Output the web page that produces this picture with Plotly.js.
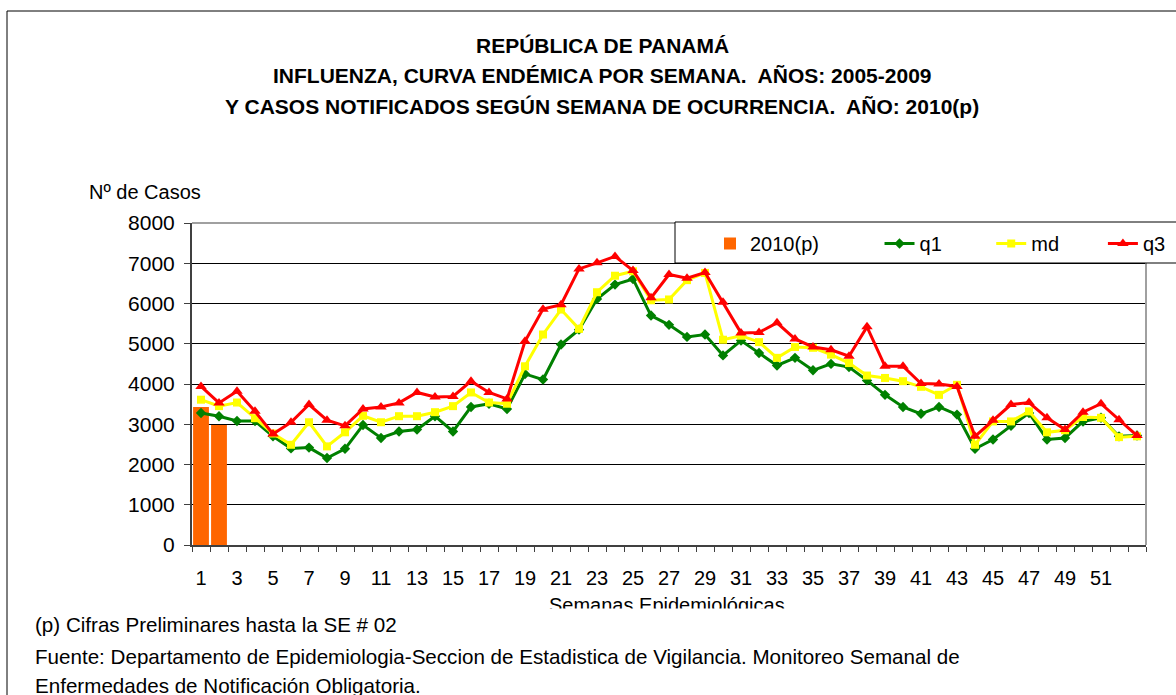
<!DOCTYPE html>
<html>
<head>
<meta charset="utf-8">
<script src="https://cdn.plot.ly/plotly-3.0.1.min.js"></script>
<style>html,body{margin:0;padding:0;background:#fff;}#chart{width:1176px;height:695px;}</style>
</head>
<body>
<div id="chart"></div>
<script>
// ---- data ----
const weeks = [1,2,3,4,5,6,7,8,9,10,11,12,13,14,15,16,17,18,19,20,21,22,23,24,25,26,27,28,29,30,31,32,33,34,35,36,37,38,39,40,41,42,43,44,45,46,47,48,49,50,51,52,53];
const casesWeeks = [1, 2];
const cases2010 = [3430, 2980];
const q1 = [3280,3200,3080,3080,2700,2400,2420,2160,2390,2980,2660,2820,2870,3200,2820,3430,3510,3380,4250,4110,4980,5350,6110,6470,6610,5700,5470,5170,5230,4710,5080,4770,4460,4650,4340,4500,4420,4090,3730,3430,3260,3430,3240,2390,2620,2960,3280,2620,2660,3070,3160,2700,2720];
const md = [3610,3450,3540,3150,2770,2490,3050,2450,2800,3210,3050,3200,3200,3300,3450,3790,3540,3510,4440,5230,5850,5370,6280,6690,6800,6080,6100,6580,6760,5100,5200,5040,4650,4920,4900,4730,4520,4210,4150,4070,3930,3730,3980,2490,3070,3070,3320,2800,2850,3180,3160,2680,2700];
const q3 = [3940,3530,3820,3320,2760,3050,3490,3100,2960,3380,3430,3530,3790,3680,3690,4070,3790,3630,5060,5860,5970,6860,7010,7170,6820,6140,6720,6630,6770,6030,5270,5280,5520,5120,4920,4850,4690,5420,4440,4440,4010,4000,3940,2700,3100,3490,3540,3160,2870,3300,3510,3110,2720];
const tickWeeks = [1,3,5,7,9,11,13,15,17,19,21,23,25,27,29,31,33,35,37,39,41,43,45,47,49,51];
const tickLabels = ["1","3","5","7","9","11","13","15","17","19","21","23","25","27","29","31","33","35","37","39","41","43","45","47","49","51"];
const seriesNames = ["2010(p)", "q1", "md", "q3"];
const titleLines = [
  "REPÚBLICA DE PANAMÁ",
  "INFLUENZA, CURVA ENDÉMICA POR SEMANA.  AÑOS: 2005-2009",
  "Y CASOS NOTIFICADOS SEGÚN SEMANA DE OCURRENCIA.  AÑO: 2010(p)"
];
const yTitle = "Nº de Casos";
const xTitle = "Semanas Epidemiológicas";
const notes = [
  "(p) Cifras Preliminares hasta la SE # 02",
  "Fuente: Departamento de Epidemiologia-Seccion de Estadistica de Vigilancia. Monitoreo Semanal de",
  "Enfermedades de Notificación Obligatoria."
];

// ---- geometry helpers (pixel -> paper) ----
const W = 1176, H = 695;
const M = {l: 192, r: 30, t: 223, b: 150, autoexpand: false};
const PW = W - M.l - M.r, PH = H - M.t - M.b;
const px = x => (x - M.l) / PW;
const py = y => (H - M.b - y) / PH;
const FONT = "Liberation Sans, Arial, sans-serif";
const NB = n => '\u00a0'.repeat(n);
const legendPad = [10, 8, 7, 0];

const boundaries = [0.5].concat(weeks.map(w => w + 0.5));

const traces = [
  {type: 'bar', x: casesWeeks, y: cases2010, name: seriesNames[0] + NB(legendPad[0]), width: 0.88,
   marker: {color: '#ff6600', line: {width: 0}}},
  {type: 'scatter', mode: 'lines+markers', x: weeks, y: q1, name: seriesNames[1] + NB(legendPad[1]),
   line: {color: '#008000', width: 3}, marker: {symbol: 'diamond', size: 8, color: '#008000'}},
  {type: 'scatter', mode: 'lines+markers', x: weeks, y: md, name: seriesNames[2] + NB(legendPad[2]),
   line: {color: '#ffff00', width: 3}, marker: {symbol: 'square', size: 8, color: '#ffff00'}},
  {type: 'scatter', mode: 'lines+markers', x: weeks, y: q3, name: seriesNames[3],
   line: {color: '#ff0000', width: 3}, marker: {symbol: 'triangle-up', size: 10, color: '#ff0000'}}
];

const annotations = [];
const titleY = [45, 75, 106];
titleLines.forEach((t, i) => annotations.push({
  xref: 'paper', yref: 'paper', x: px(602), y: py(titleY[i]), xanchor: 'center', yanchor: 'middle',
  showarrow: false, text: '<b>' + t + '</b>', font: {family: FONT, size: 21, color: '#000'}
}));
annotations.push({xref: 'paper', yref: 'paper', x: px(145), y: py(192), xanchor: 'center', yanchor: 'middle',
  showarrow: false, text: yTitle, font: {family: FONT, size: 20, color: '#000'}});
annotations.push({xref: 'paper', yref: 'paper', x: px(667), y: py(605), xanchor: 'center', yanchor: 'middle',
  showarrow: false, text: xTitle, font: {family: FONT, size: 20, color: '#000'}});
const noteY = [624, 656, 685];
notes.forEach((t, i) => annotations.push({
  xref: 'paper', yref: 'paper', x: px(34), y: py(noteY[i]), xanchor: 'left', yanchor: 'middle',
  showarrow: false, text: t, align: 'left', width: 1060, height: 30, borderpad: 0,
  bgcolor: i === 0 ? '#ffffff' : 'rgba(0,0,0,0)',
  font: {family: FONT, size: 20.6, color: '#000'}
}));

const shapes = [
  // outer frame
  {type: 'rect', xref: 'paper', yref: 'paper', x0: px(7), x1: px(1300), y0: py(900), y1: py(11),
   line: {color: '#000', width: 1}, fillcolor: 'rgba(0,0,0,0)', layer: 'below'},
  // plot area top & right borders
  {type: 'line', xref: 'paper', yref: 'paper', x0: 0, x1: 1, y0: 1, y1: 1, line: {color: '#a0a0a0', width: 2}, layer: 'above'},
  {type: 'line', xref: 'paper', yref: 'paper', x0: 1, x1: 1, y0: 0, y1: 1, line: {color: '#a0a0a0', width: 2}, layer: 'above'},
  // legend box
  {type: 'rect', xref: 'paper', yref: 'paper', x0: px(675), x1: px(1300), y0: py(263), y1: py(222),
   line: {color: '#000', width: 1}, fillcolor: '#ffffff', layer: 'above'}
];

const layout = {
  width: W, height: H,
  margin: M,
  paper_bgcolor: '#fff', plot_bgcolor: '#fff',
  font: {family: FONT, size: 20, color: '#000'},
  showlegend: true,
  legend: {orientation: 'h', x: px(710), xanchor: 'left', y: py(224), yanchor: 'top',
           bgcolor: 'rgba(0,0,0,0)', borderwidth: 0, font: {family: FONT, size: 20, color: '#000'}},
  bargap: 0.1,
  xaxis: {range: [0.5, 53.5], tickmode: 'array', tickvals: tickWeeks, ticktext: tickLabels,
          ticks: '', showgrid: false, zeroline: false, showline: true, linecolor: '#404040', linewidth: 2,
          tickfont: {family: FONT, size: 20, color: '#000'}, ticklabelstandoff: 14,
          minor: {tickmode: 'array', tickvals: boundaries, ticks: 'outside', ticklen: 5, tickcolor: '#404040', tickwidth: 1, showgrid: false}},
  yaxis: {range: [0, 8000], tick0: 0, dtick: 1000, ticks: 'outside', ticklen: 6, tickcolor: '#404040', tickwidth: 1,
          showgrid: true, gridcolor: '#000', gridwidth: 1, zeroline: false, showline: true, linecolor: '#404040', linewidth: 2,
          tickfont: {family: FONT, size: 21, color: '#000'}, ticklabelstandoff: 5},
  annotations: annotations,
  shapes: shapes
};

Plotly.newPlot('chart', traces, layout, {displayModeBar: false, staticPlot: true});
</script>
</body>
</html>
